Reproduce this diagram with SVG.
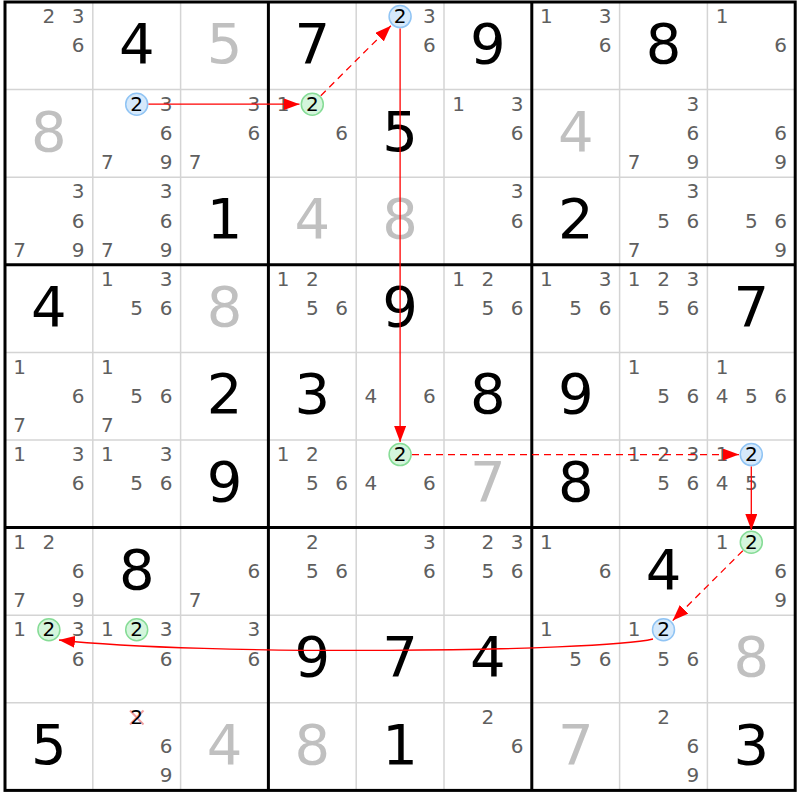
<svg xmlns="http://www.w3.org/2000/svg" width="800" height="800" viewBox="0 0 800 800">
<style>
text{font-family:"DejaVu Sans","Noto Sans",sans-serif;text-anchor:middle}
.c{font-size:20px;fill:#5f5f5f}
.h{font-size:20px;fill:#000}
.g{font-size:56px;fill:#000}
.s{font-size:56px;fill:#c0c0c0}
.thin{stroke:#d4d4d4;stroke-width:1.5}
.thick{stroke:#000;stroke-width:3}
.cb{fill:#d6e9fb;stroke:#90c4f4;stroke-width:1.5}
.cg{fill:#d4f5dc;stroke:#86dc96;stroke-width:1.5}
.arr{fill:none;stroke:#ff0000;stroke-width:1.3;marker-end:url(#ah)}
.dash{stroke-dasharray:7,5}
.x{stroke:#f4a0a0;stroke-width:2}
</style>
<defs>
<marker id="ah" markerUnits="userSpaceOnUse" markerWidth="16" markerHeight="12" refX="16" refY="6" orient="auto">
<path d="M0,0 L16,6 L0,12 z" fill="#ff0000"/>
</marker>
</defs>
<rect width="800" height="800" fill="#fff"/>
<g id="grid">
<line class="thin" x1="92.8" y1="2" x2="92.8" y2="790.4"/>
<line class="thin" x1="180.6" y1="2" x2="180.6" y2="790.4"/>
<line class="thin" x1="356.2" y1="2" x2="356.2" y2="790.4"/>
<line class="thin" x1="444" y1="2" x2="444" y2="790.4"/>
<line class="thin" x1="619.6" y1="2" x2="619.6" y2="790.4"/>
<line class="thin" x1="707.4" y1="2" x2="707.4" y2="790.4"/>
<line class="thin" x1="5" y1="89.6" x2="795.2" y2="89.6"/>
<line class="thin" x1="5" y1="177.2" x2="795.2" y2="177.2"/>
<line class="thin" x1="5" y1="352.4" x2="795.2" y2="352.4"/>
<line class="thin" x1="5" y1="440" x2="795.2" y2="440"/>
<line class="thin" x1="5" y1="615.2" x2="795.2" y2="615.2"/>
<line class="thin" x1="5" y1="702.8" x2="795.2" y2="702.8"/>
<line class="thick" x1="268.4" y1="2" x2="268.4" y2="790.4"/>
<line class="thick" x1="531.8" y1="2" x2="531.8" y2="790.4"/>
<line class="thick" x1="5" y1="264.8" x2="795.2" y2="264.8"/>
<line class="thick" x1="5" y1="527.6" x2="795.2" y2="527.6"/>
<rect x="5" y="2" width="790.2" height="788.4" fill="none" stroke="#000" stroke-width="3"/>
</g>
<g id="cells">
<g id="r1c1"><text class="c" x="48.9" y="23.1">2</text><text class="c" x="78.2" y="23.1">3</text><text class="c" x="78.2" y="52.3">6</text></g>
<g id="r1c2"><text class="g" x="136.7" y="63">4</text></g>
<g id="r1c3"><text class="s" x="224.5" y="63">5</text></g>
<g id="r1c4"><text class="g" x="312.3" y="63">7</text></g>
<g id="r1c5"><circle class="cb" cx="400.1" cy="16.6" r="11"/><text class="h" x="400.1" y="23.1">2</text><text class="c" x="429.4" y="23.1">3</text><text class="c" x="429.4" y="52.3">6</text></g>
<g id="r1c6"><text class="g" x="487.9" y="63">9</text></g>
<g id="r1c7"><text class="c" x="546.4" y="23.1">1</text><text class="c" x="605" y="23.1">3</text><text class="c" x="605" y="52.3">6</text></g>
<g id="r1c8"><text class="g" x="663.5" y="63">8</text></g>
<g id="r1c9"><text class="c" x="722" y="23.1">1</text><text class="c" x="780.6" y="52.3">6</text></g>

<g id="r2c1"><text class="s" x="48.9" y="150.6">8</text></g>
<g id="r2c2"><circle class="cb" cx="136.7" cy="104.2" r="11"/><text class="h" x="136.7" y="110.7">2</text><text class="c" x="166" y="110.7">3</text><text class="c" x="166" y="139.9">6</text><text class="c" x="107.4" y="169.1">7</text><text class="c" x="166" y="169.1">9</text></g>
<g id="r2c3"><text class="c" x="253.8" y="110.7">3</text><text class="c" x="253.8" y="139.9">6</text><text class="c" x="195.2" y="169.1">7</text></g>
<g id="r2c4"><text class="c" x="283" y="110.7">1</text><circle class="cg" cx="312.3" cy="104.2" r="11"/><text class="h" x="312.3" y="110.7">2</text><text class="c" x="341.6" y="139.9">6</text></g>
<g id="r2c5"><text class="g" x="400.1" y="150.6">5</text></g>
<g id="r2c6"><text class="c" x="458.6" y="110.7">1</text><text class="c" x="517.2" y="110.7">3</text><text class="c" x="517.2" y="139.9">6</text></g>
<g id="r2c7"><text class="s" x="575.7" y="150.6">4</text></g>
<g id="r2c8"><text class="c" x="692.8" y="110.7">3</text><text class="c" x="692.8" y="139.9">6</text><text class="c" x="634.2" y="169.1">7</text><text class="c" x="692.8" y="169.1">9</text></g>
<g id="r2c9"><text class="c" x="780.6" y="139.9">6</text><text class="c" x="780.6" y="169.1">9</text></g>

<g id="r3c1"><text class="c" x="78.2" y="198.3">3</text><text class="c" x="78.2" y="227.5">6</text><text class="c" x="19.6" y="256.7">7</text><text class="c" x="78.2" y="256.7">9</text></g>
<g id="r3c2"><text class="c" x="166" y="198.3">3</text><text class="c" x="166" y="227.5">6</text><text class="c" x="107.4" y="256.7">7</text><text class="c" x="166" y="256.7">9</text></g>
<g id="r3c3"><text class="g" x="224.5" y="238.2">1</text></g>
<g id="r3c4"><text class="s" x="312.3" y="238.2">4</text></g>
<g id="r3c5"><text class="s" x="400.1" y="238.2">8</text></g>
<g id="r3c6"><text class="c" x="517.2" y="198.3">3</text><text class="c" x="517.2" y="227.5">6</text></g>
<g id="r3c7"><text class="g" x="575.7" y="238.2">2</text></g>
<g id="r3c8"><text class="c" x="692.8" y="198.3">3</text><text class="c" x="663.5" y="227.5">5</text><text class="c" x="692.8" y="227.5">6</text><text class="c" x="634.2" y="256.7">7</text></g>
<g id="r3c9"><text class="c" x="751.3" y="227.5">5</text><text class="c" x="780.6" y="227.5">6</text><text class="c" x="780.6" y="256.7">9</text></g>

<g id="r4c1"><text class="g" x="48.9" y="325.8">4</text></g>
<g id="r4c2"><text class="c" x="107.4" y="285.9">1</text><text class="c" x="166" y="285.9">3</text><text class="c" x="136.7" y="315.1">5</text><text class="c" x="166" y="315.1">6</text></g>
<g id="r4c3"><text class="s" x="224.5" y="325.8">8</text></g>
<g id="r4c4"><text class="c" x="283" y="285.9">1</text><text class="c" x="312.3" y="285.9">2</text><text class="c" x="312.3" y="315.1">5</text><text class="c" x="341.6" y="315.1">6</text></g>
<g id="r4c5"><text class="g" x="400.1" y="325.8">9</text></g>
<g id="r4c6"><text class="c" x="458.6" y="285.9">1</text><text class="c" x="487.9" y="285.9">2</text><text class="c" x="487.9" y="315.1">5</text><text class="c" x="517.2" y="315.1">6</text></g>
<g id="r4c7"><text class="c" x="546.4" y="285.9">1</text><text class="c" x="605" y="285.9">3</text><text class="c" x="575.7" y="315.1">5</text><text class="c" x="605" y="315.1">6</text></g>
<g id="r4c8"><text class="c" x="634.2" y="285.9">1</text><text class="c" x="663.5" y="285.9">2</text><text class="c" x="692.8" y="285.9">3</text><text class="c" x="663.5" y="315.1">5</text><text class="c" x="692.8" y="315.1">6</text></g>
<g id="r4c9"><text class="g" x="751.3" y="325.8">7</text></g>

<g id="r5c1"><text class="c" x="19.6" y="373.5">1</text><text class="c" x="78.2" y="402.7">6</text><text class="c" x="19.6" y="431.9">7</text></g>
<g id="r5c2"><text class="c" x="107.4" y="373.5">1</text><text class="c" x="136.7" y="402.7">5</text><text class="c" x="166" y="402.7">6</text><text class="c" x="107.4" y="431.9">7</text></g>
<g id="r5c3"><text class="g" x="224.5" y="413.4">2</text></g>
<g id="r5c4"><text class="g" x="312.3" y="413.4">3</text></g>
<g id="r5c5"><text class="c" x="370.8" y="402.7">4</text><text class="c" x="429.4" y="402.7">6</text></g>
<g id="r5c6"><text class="g" x="487.9" y="413.4">8</text></g>
<g id="r5c7"><text class="g" x="575.7" y="413.4">9</text></g>
<g id="r5c8"><text class="c" x="634.2" y="373.5">1</text><text class="c" x="663.5" y="402.7">5</text><text class="c" x="692.8" y="402.7">6</text></g>
<g id="r5c9"><text class="c" x="722" y="373.5">1</text><text class="c" x="722" y="402.7">4</text><text class="c" x="751.3" y="402.7">5</text><text class="c" x="780.6" y="402.7">6</text></g>

<g id="r6c1"><text class="c" x="19.6" y="461.1">1</text><text class="c" x="78.2" y="461.1">3</text><text class="c" x="78.2" y="490.3">6</text></g>
<g id="r6c2"><text class="c" x="107.4" y="461.1">1</text><text class="c" x="166" y="461.1">3</text><text class="c" x="136.7" y="490.3">5</text><text class="c" x="166" y="490.3">6</text></g>
<g id="r6c3"><text class="g" x="224.5" y="501">9</text></g>
<g id="r6c4"><text class="c" x="283" y="461.1">1</text><text class="c" x="312.3" y="461.1">2</text><text class="c" x="312.3" y="490.3">5</text><text class="c" x="341.6" y="490.3">6</text></g>
<g id="r6c5"><circle class="cg" cx="400.1" cy="454.6" r="11"/><text class="h" x="400.1" y="461.1">2</text><text class="c" x="370.8" y="490.3">4</text><text class="c" x="429.4" y="490.3">6</text></g>
<g id="r6c6"><text class="s" x="487.9" y="501">7</text></g>
<g id="r6c7"><text class="g" x="575.7" y="501">8</text></g>
<g id="r6c8"><text class="c" x="634.2" y="461.1">1</text><text class="c" x="663.5" y="461.1">2</text><text class="c" x="692.8" y="461.1">3</text><text class="c" x="663.5" y="490.3">5</text><text class="c" x="692.8" y="490.3">6</text></g>
<g id="r6c9"><text class="c" x="722" y="461.1">1</text><circle class="cb" cx="751.3" cy="454.6" r="11"/><text class="h" x="751.3" y="461.1">2</text><text class="c" x="722" y="490.3">4</text><text class="c" x="751.3" y="490.3">5</text></g>

<g id="r7c1"><text class="c" x="19.6" y="548.7">1</text><text class="c" x="48.9" y="548.7">2</text><text class="c" x="78.2" y="577.9">6</text><text class="c" x="19.6" y="607.1">7</text><text class="c" x="78.2" y="607.1">9</text></g>
<g id="r7c2"><text class="g" x="136.7" y="588.6">8</text></g>
<g id="r7c3"><text class="c" x="253.8" y="577.9">6</text><text class="c" x="195.2" y="607.1">7</text></g>
<g id="r7c4"><text class="c" x="312.3" y="548.7">2</text><text class="c" x="312.3" y="577.9">5</text><text class="c" x="341.6" y="577.9">6</text></g>
<g id="r7c5"><text class="c" x="429.4" y="548.7">3</text><text class="c" x="429.4" y="577.9">6</text></g>
<g id="r7c6"><text class="c" x="487.9" y="548.7">2</text><text class="c" x="517.2" y="548.7">3</text><text class="c" x="487.9" y="577.9">5</text><text class="c" x="517.2" y="577.9">6</text></g>
<g id="r7c7"><text class="c" x="546.4" y="548.7">1</text><text class="c" x="605" y="577.9">6</text></g>
<g id="r7c8"><text class="g" x="663.5" y="588.6">4</text></g>
<g id="r7c9"><text class="c" x="722" y="548.7">1</text><circle class="cg" cx="751.3" cy="542.2" r="11"/><text class="h" x="751.3" y="548.7">2</text><text class="c" x="780.6" y="577.9">6</text><text class="c" x="780.6" y="607.1">9</text></g>

<g id="r8c1"><text class="c" x="19.6" y="636.3">1</text><circle class="cg" cx="48.9" cy="629.8" r="11"/><text class="h" x="48.9" y="636.3">2</text><text class="c" x="78.2" y="636.3">3</text><text class="c" x="78.2" y="665.5">6</text></g>
<g id="r8c2"><text class="c" x="107.4" y="636.3">1</text><circle class="cg" cx="136.7" cy="629.8" r="11"/><text class="h" x="136.7" y="636.3">2</text><text class="c" x="166" y="636.3">3</text><text class="c" x="166" y="665.5">6</text></g>
<g id="r8c3"><text class="c" x="253.8" y="636.3">3</text><text class="c" x="253.8" y="665.5">6</text></g>
<g id="r8c4"><text class="g" x="312.3" y="676.2">9</text></g>
<g id="r8c5"><text class="g" x="400.1" y="676.2">7</text></g>
<g id="r8c6"><text class="g" x="487.9" y="676.2">4</text></g>
<g id="r8c7"><text class="c" x="546.4" y="636.3">1</text><text class="c" x="575.7" y="665.5">5</text><text class="c" x="605" y="665.5">6</text></g>
<g id="r8c8"><text class="c" x="634.2" y="636.3">1</text><circle class="cb" cx="663.5" cy="629.8" r="11"/><text class="h" x="663.5" y="636.3">2</text><text class="c" x="663.5" y="665.5">5</text><text class="c" x="692.8" y="665.5">6</text></g>
<g id="r8c9"><text class="s" x="751.3" y="676.2">8</text></g>

<g id="r9c1"><text class="g" x="48.9" y="763.8">5</text></g>
<g id="r9c2"><line class="x" x1="130" y1="710.5" x2="143.5" y2="724.5"/><line class="x" x1="143.5" y1="710.5" x2="130" y2="724.5"/><text class="h" x="136.7" y="723.9">2</text><text class="c" x="166" y="753.1">6</text><text class="c" x="166" y="782.3">9</text></g>
<g id="r9c3"><text class="s" x="224.5" y="763.8">4</text></g>
<g id="r9c4"><text class="s" x="312.3" y="763.8">8</text></g>
<g id="r9c5"><text class="g" x="400.1" y="763.8">1</text></g>
<g id="r9c6"><text class="c" x="487.9" y="723.9">2</text><text class="c" x="517.2" y="753.1">6</text></g>
<g id="r9c7"><text class="s" x="575.7" y="763.8">7</text></g>
<g id="r9c8"><text class="c" x="663.5" y="723.9">2</text><text class="c" x="692.8" y="753.1">6</text><text class="c" x="692.8" y="782.3">9</text></g>
<g id="r9c9"><text class="g" x="751.3" y="763.8">3</text></g>
</g>
<g id="connectors">
<path class="arr" d="M148.5,104.2 L299.5,104.2"/>
<path class="arr dash" d="M320.8,95.7 L390.9,25.8"/>
<path class="arr" d="M400.1,28.6 L400.1,442"/>
<path class="arr dash" d="M412,454.6 L739,454.6"/>
<path class="arr" d="M751.3,466.6 L751.3,530"/>
<path class="arr dash" d="M742.8,550.7 L672.7,620.6"/>
<path class="arr" d="M653,639 C600,652 200,656 59,640"/>
</g>
</svg>
